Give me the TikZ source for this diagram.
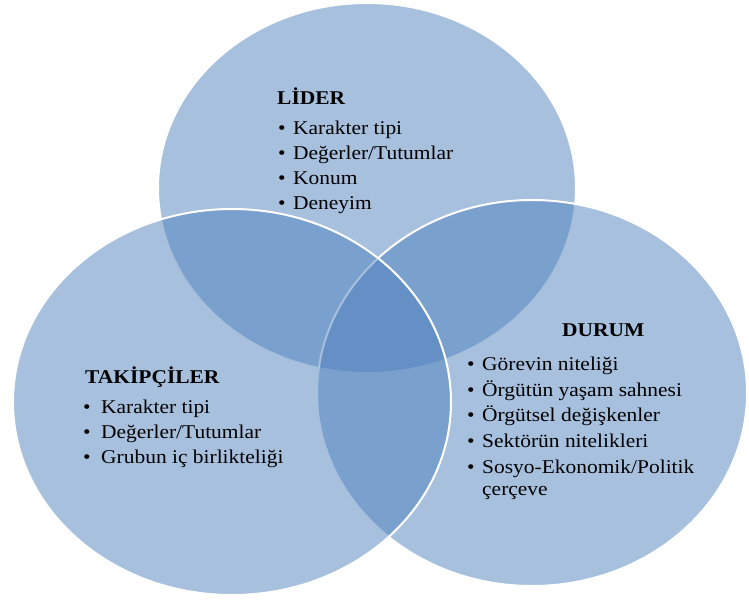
\documentclass[tikz,border=0pt]{standalone}
\usepackage{fontspec}
\setmainfont{Liberation Serif}[FakeStretch=1.1]
\usetikzlibrary{shapes.geometric}
\definecolor{vennblue}{RGB}{79,129,189}
\tikzset{
  vennset/.style={ellipse, inner sep=0pt, fill=vennblue, fill opacity=0.5, draw=white, line width=2pt},
  txt/.style={anchor=base west, inner sep=0pt, font=\fontsize{19.5}{22}\selectfont, text=black},
  head/.style={txt, font=\fontsize{19.5}{22}\selectfont\bfseries},
}
\begin{document}
\begin{tikzpicture}[x=1pt,y=-1pt]
\useasboundingbox (0,0) rectangle (749,600);
% sets
\node[vennset, minimum width=418pt, minimum height=370pt] (lider) at (367,188) {};
\node[vennset, minimum width=430pt, minimum height=386pt] (durum) at (532,393) {};
\node[vennset, minimum width=438pt, minimum height=386pt] (takip) at (232,402) {};
% LIDER
\node[head] (h1) at (277,104) {LİDER};
\node[txt] (b11) at (278,134) {•}; \node[txt] (t11) at (293,134) {Karakter tipi};
\node[txt] (b12) at (278,159) {•}; \node[txt] (t12) at (293,159) {Değerler/Tutumlar};
\node[txt] (b13) at (278,184) {•}; \node[txt] (t13) at (293,184) {Konum};
\node[txt] (b14) at (278,209) {•}; \node[txt] (t14) at (293,209) {Deneyim};
% TAKIPCILER
\node[head] (h2) at (85,383) {TAKİPÇİLER};
\node[txt] (b21) at (83,413) {•}; \node[txt] (t21) at (101,413) {Karakter tipi};
\node[txt] (b22) at (83,438) {•}; \node[txt] (t22) at (101,438) {Değerler/Tutumlar};
\node[txt] (b23) at (83,463) {•}; \node[txt] (t23) at (101,463) {Grubun iç birlikteliği};
% DURUM
\node[head] (h3) at (562,336) {DURUM};
\node[txt] (b31) at (467,370) {•}; \node[txt] (t31) at (482,370) {Görevin niteliği};
\node[txt] (b32) at (467,396) {•}; \node[txt] (t32) at (482,396) {Örgütün yaşam sahnesi};
\node[txt] (b33) at (467,421) {•}; \node[txt] (t33) at (482,421) {Örgütsel değişkenler};
\node[txt] (b34) at (467,447) {•}; \node[txt] (t34) at (482,447) {Sektörün nitelikleri};
\node[txt] (b35) at (467,473) {•}; \node[txt] (t35) at (482,473) {Sosyo-Ekonomik/Politik};
\node[txt] (t36) at (482,495) {çerçeve};
\end{tikzpicture}
\end{document}
